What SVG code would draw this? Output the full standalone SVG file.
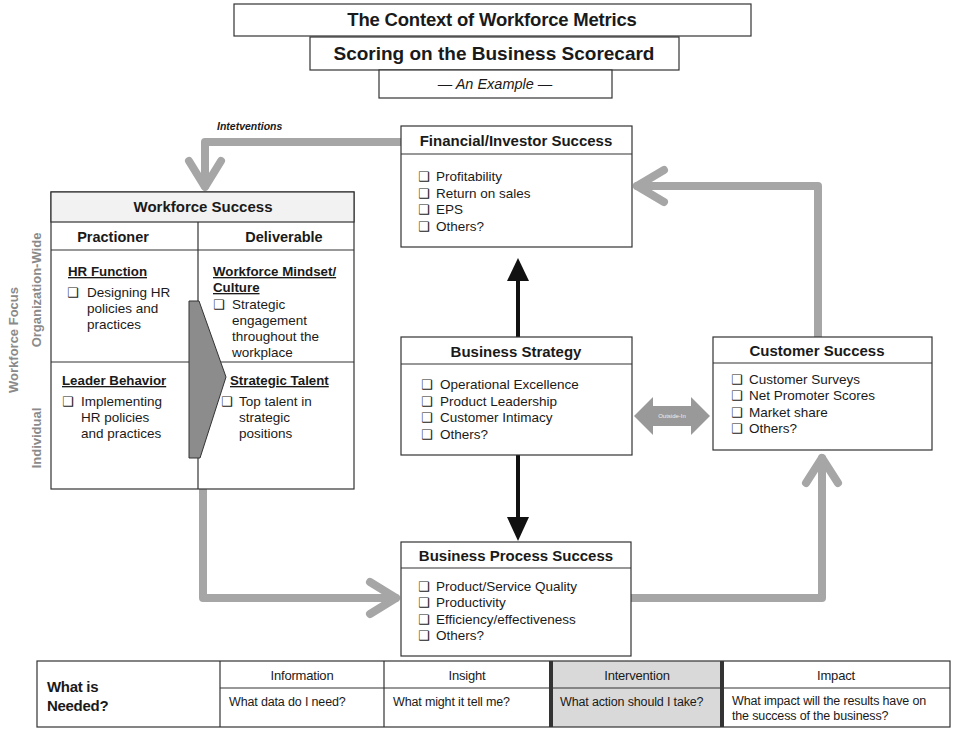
<svg xmlns="http://www.w3.org/2000/svg" width="953" height="729" viewBox="0 0 953 729">
<defs>
<style>
text{font-family:"Liberation Sans",Arial,"DejaVu Sans",sans-serif;fill:#1a1a1a}
.box{fill:#fff;stroke:#333;stroke-width:1.2}
.ln{stroke:#333;stroke-width:1.2;fill:none}
.h{font-weight:bold;font-size:15px;text-anchor:middle}
.it{font-size:13.5px}
.sub{font-weight:bold;font-size:13.3px;text-decoration:underline}
.cb{font-family:"DejaVu Sans",sans-serif;font-size:13px}
.gr{fill:none;stroke:#a6a6a6;stroke-width:8;stroke-linejoin:round;stroke-linecap:round}
.side{font-weight:bold;font-size:13px;fill:#8a8a8a;text-anchor:middle}
.th{font-size:13px;letter-spacing:-0.2px;text-anchor:middle}
.td{font-size:12.5px;letter-spacing:-0.15px}
</style>
</defs>

<g id="title">
<rect class="box" x="234" y="4" width="517" height="32"/>
<text x="492" y="26" style="font-weight:bold;font-size:18.5px;letter-spacing:-0.2px;text-anchor:middle">The Context of Workforce Metrics</text>
<rect class="box" x="310" y="37" width="369" height="33"/>
<text x="494" y="60" style="font-weight:bold;font-size:19px;text-anchor:middle">Scoring on the Business Scorecard</text>
<rect class="box" x="379" y="70" width="233" height="28"/>
<text x="495" y="89" style="font-style:italic;font-size:14.5px;text-anchor:middle">— An Example —</text>
</g>

<g id="connectors">
<path class="gr" d="M401,142 H205 V186"/>
<path class="gr" d="M189,161 L205,187 L221,161"/>
<path class="gr" d="M818,337 V186 H637"/>
<path class="gr" d="M664,170 L637,186 L664,202"/>
<path class="gr" d="M203,490 V598 H396"/>
<path class="gr" d="M370,582 L396,598 L370,614"/>
<path class="gr" d="M631,598 H822 V458"/>
<path class="gr" d="M806,483 L822,458 L838,483"/>
<line x1="518" y1="337" x2="518" y2="278" stroke="#111" stroke-width="4"/>
<polygon points="507,281 529,281 518,258" fill="#111"/>
<line x1="518" y1="455" x2="518" y2="520" stroke="#111" stroke-width="4"/>
<polygon points="507,517 529,517 518,541" fill="#111"/>
<polygon points="634,416 653,397 653,406 691,406 691,397 710,416 691,435 691,426 653,426 653,435" fill="#999"/>
<text x="672" y="418" style="font-size:6px;fill:#eee;text-anchor:middle">Outside-In</text>
<text x="217" y="130" style="font-weight:bold;font-style:italic;font-size:10.5px">Intetventions</text>
</g>

<g id="workforce-success">
<rect class="box" x="51" y="192" width="303" height="297"/>
<rect x="51" y="192" width="303" height="30" fill="#f2f2f2" stroke="#333" stroke-width="1.2"/>
<line class="ln" x1="51" y1="250" x2="354" y2="250"/>
<line class="ln" x1="198" y1="222" x2="198" y2="489"/>
<line class="ln" x1="51" y1="362" x2="354" y2="362"/>
<polygon points="189,301 199,301 226,377 200,458 189,458" fill="#8c8c8c" stroke="#333" stroke-width="1"/>
<text class="h" x="203" y="212">Workforce Success</text>
<text class="h" x="113" y="242" style="font-size:14.5px">Practioner</text>
<text class="h" x="284" y="242" style="font-size:14.5px">Deliverable</text>
<text class="sub" x="68" y="276">HR Function</text>
<text class="cb" x="67" y="297">❑</text>
<text class="it" x="87" y="297">Designing HR</text>
<text class="it" x="87" y="313">policies and</text>
<text class="it" x="87" y="329">practices</text>
<text class="sub" x="213" y="276">Workforce Mindset/</text>
<text class="sub" x="213" y="292">Culture</text>
<text class="cb" x="213" y="309">❑</text>
<text class="it" x="232" y="309">Strategic</text>
<text class="it" x="232" y="325">engagement</text>
<text class="it" x="232" y="341">throughout the</text>
<text class="it" x="232" y="357">workplace</text>
<text class="sub" x="62" y="385">Leader Behavior</text>
<text class="cb" x="62" y="406">❑</text>
<text class="it" x="81" y="406">Implementing</text>
<text class="it" x="81" y="422">HR policies</text>
<text class="it" x="81" y="438">and practices</text>
<text class="sub" x="230" y="385">Strategic Talent</text>
<text class="cb" x="221" y="406">❑</text>
<text class="it" x="239" y="406">Top talent in</text>
<text class="it" x="239" y="422">strategic</text>
<text class="it" x="239" y="438">positions</text>
</g>

<g id="workforce-focus">
<text class="side" transform="translate(18,340) rotate(-90)">Workforce Focus</text>
<text class="side" transform="translate(41,290) rotate(-90)">Organization-Wide</text>
<text class="side" transform="translate(41,438) rotate(-90)">Individual</text>
</g>

<g id="financial">
<rect class="box" x="401" y="126" width="231" height="121"/>
<line class="ln" x1="401" y1="154" x2="632" y2="154"/>
<text class="h" x="516" y="146">Financial/Investor Success</text>
<text class="cb" x="418" y="181">❑</text><text class="it" x="436" y="181">Profitability</text>
<text class="cb" x="418" y="198">❑</text><text class="it" x="436" y="198">Return on sales</text>
<text class="cb" x="418" y="214">❑</text><text class="it" x="436" y="214">EPS</text>
<text class="cb" x="418" y="231">❑</text><text class="it" x="436" y="231">Others?</text>
</g>

<g id="strategy">
<rect class="box" x="401" y="337" width="231" height="118"/>
<line class="ln" x1="401" y1="364" x2="632" y2="364"/>
<text class="h" x="516" y="357">Business Strategy</text>
<text class="cb" x="421" y="389">❑</text><text class="it" x="440" y="389">Operational Excellence</text>
<text class="cb" x="421" y="406">❑</text><text class="it" x="440" y="406">Product Leadership</text>
<text class="cb" x="421" y="422">❑</text><text class="it" x="440" y="422">Customer Intimacy</text>
<text class="cb" x="421" y="439">❑</text><text class="it" x="440" y="439">Others?</text>
</g>

<g id="customer">
<rect class="box" x="713" y="337" width="219" height="113"/>
<line class="ln" x1="713" y1="363" x2="932" y2="363"/>
<text class="h" x="817" y="356">Customer Success</text>
<text class="cb" x="731" y="384">❑</text><text class="it" x="749" y="384">Customer Surveys</text>
<text class="cb" x="731" y="400">❑</text><text class="it" x="749" y="400">Net Promoter Scores</text>
<text class="cb" x="731" y="417">❑</text><text class="it" x="749" y="417">Market share</text>
<text class="cb" x="731" y="433">❑</text><text class="it" x="749" y="433">Others?</text>
</g>

<g id="process">
<rect class="box" x="401" y="542" width="230" height="114"/>
<line class="ln" x1="401" y1="568" x2="631" y2="568"/>
<text class="h" x="516" y="561">Business Process Success</text>
<text class="cb" x="418" y="591">❑</text><text class="it" x="436" y="591">Product/Service Quality</text>
<text class="cb" x="418" y="607">❑</text><text class="it" x="436" y="607">Productivity</text>
<text class="cb" x="418" y="624">❑</text><text class="it" x="436" y="624">Efficiency/effectiveness</text>
<text class="cb" x="418" y="640">❑</text><text class="it" x="436" y="640">Others?</text>
</g>

<g id="needed-table">
<rect x="551" y="661" width="171" height="66" fill="#d9d9d9"/>
<rect x="37" y="661" width="913" height="66" fill="none" stroke="#333" stroke-width="1.2"/>
<line class="ln" x1="220" y1="688" x2="950" y2="688"/>
<line class="ln" x1="220" y1="661" x2="220" y2="727"/>
<line class="ln" x1="384" y1="661" x2="384" y2="727"/>
<line x1="551" y1="661" x2="551" y2="727" stroke="#333" stroke-width="4"/>
<line x1="722" y1="661" x2="722" y2="727" stroke="#333" stroke-width="4"/>
<text x="47" y="692" style="font-weight:bold;font-size:15px;letter-spacing:-0.3px">What is</text>
<text x="47" y="711" style="font-weight:bold;font-size:15px;letter-spacing:-0.3px">Needed?</text>
<text class="th" x="302" y="680">Information</text>
<text class="th" x="467" y="680">Insight</text>
<text class="th" x="637" y="680">Intervention</text>
<text class="th" x="836" y="680">Impact</text>
<text class="td" x="229" y="706">What data do I need?</text>
<text class="td" x="393" y="706">What might it tell me?</text>
<text class="td" x="560" y="706">What action should I take?</text>
<text class="td" x="732" y="705">What impact will the results have on</text>
<text class="td" x="732" y="720">the success of the business?</text>
</g>
</svg>
